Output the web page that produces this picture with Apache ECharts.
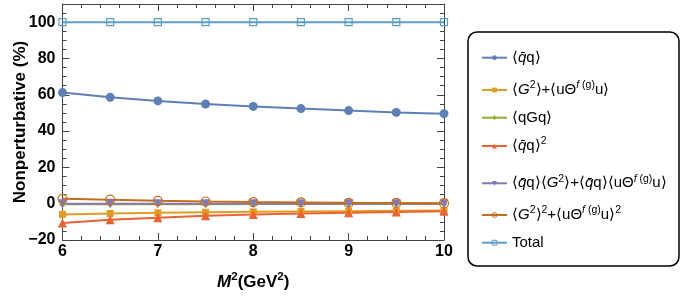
<!DOCTYPE html>
<html>
<head>
<meta charset="utf-8">
<script src="https://cdn.jsdelivr.net/npm/echarts@6/dist/echarts.min.js"></script>
<style>html,body{margin:0;padding:0;background:#fff;}#c{width:681px;height:297px;}</style>
</head>
<body>
<div id="c"></div>
<script>
const xValues = [6, 6.5, 7, 7.5, 8, 8.5, 9, 9.5, 10];
const qqCond = [61.2, 58.6, 56.6, 54.9, 53.6, 52.4, 51.3, 50.3, 49.6];
const gluonCond = [-5.9, -5.4, -5.0, -4.7, -4.5, -4.3, -4.1, -3.9, -3.8];
const mixedCond = [-0.3, -0.3, -0.3, -0.3, -0.2, -0.2, -0.2, -0.2, -0.2];
const qqSquared = [-10.6, -8.8, -7.7, -6.7, -5.9, -5.4, -5.0, -4.6, -4.2];
const qqGluon = [0, 0, 0, 0, 0, 0, 0, 0, 0];
const gluonSquared = [2.7, 2.2, 1.6, 1.2, 0.9, 0.7, 0.5, 0.4, 0.3];
const total = [100, 100, 100, 100, 100, 100, 100, 100, 100];

const xTicks = [6, 7, 8, 9, 10];
const yTicks = [-20, 0, 20, 40, 60, 80, 100];

const seriesNames = ['qq', 'G2', 'qGq', 'qq2', 'qqG2', 'G22', 'Total'];
const legendRich = {
  qq: '{n|⟨}{i|q̄}{n|q⟩}',
  G2: '{n|⟨}{i|G}{s|2}{n|⟩+⟨uΘ}{si|f}{s| (g)}{n|u⟩}',
  qGq: '{n|⟨qGq⟩}',
  qq2: '{n|⟨}{i|q̄}{n|q⟩}{s|2}',
  qqG2: '{n|⟨}{i|q̄}{n|q⟩⟨}{i|G}{s|2}{n|⟩+⟨}{i|q̄}{n|q⟩⟨uΘ}{si|f}{s| (g)}{n|u⟩}',
  G22: '{n|⟨}{i|G}{s|2}{n|⟩}{s|2}{n|+⟨uΘ}{si|f}{s| (g)}{n|u⟩}{s|2}',
  Total: '{n|Total}'
};
const colors = ['#5E81B5', '#E19C24', '#8FB032', '#EB6235', '#8778B3', '#C56E1A', '#5D9EC7'];
const dataSets = [qqCond, gluonCond, mixedCond, qqSquared, qqGluon, gluonSquared, total];
const symbols = ['circle', 'rect', 'diamond', 'triangle', 'triangle', 'circle', 'rect'];
const symbolSizes = [9, 7, 7, 9, 9, 9, 7];
const symbolRot = [0, 0, 0, 0, 180, 0, 0];
const hollow = [false, false, false, false, false, true, true];
const legendCenters = [57.7, 90, 117.7, 146, 183.3, 215, 242.7];

const FONT = '"Liberation Sans", Arial, sans-serif';
const richStyles = {
  n: {fontSize: 15, fontFamily: FONT, color: '#000', lineHeight: 20},
  i: {fontSize: 15, fontFamily: FONT, fontStyle: 'italic', color: '#000', lineHeight: 20},
  s: {fontSize: 10.5, fontFamily: FONT, color: '#000', lineHeight: 10, verticalAlign: 'top'},
  si: {fontSize: 10.5, fontFamily: FONT, fontStyle: 'italic', color: '#000', lineHeight: 10, verticalAlign: 'top'}
};

const frameColor = '#444';
function mkX(pos, labels) {
  return {
    type: 'value', position: pos, min: 6, max: 10, interval: 1,
    axisLine: {show: true, onZero: false, lineStyle: {color: frameColor, width: 1}},
    axisTick: {show: true, inside: true, length: 7, lineStyle: {color: frameColor}},
    minorTick: {show: true, splitNumber: 5, length: 4, lineStyle: {color: frameColor}},
    splitLine: {show: false}, minorSplitLine: {show: false},
    axisLabel: labels ? {show: true, margin: 4, fontSize: 16, fontWeight: 'bold', fontFamily: FONT, color: '#000',
      formatter: v => xTicks.includes(v) ? String(v) : ''} : {show: false}
  };
}
function mkY(pos, interval, tickLen, labels, line) {
  return {
    type: 'value', position: pos, min: -20, max: 110, interval: interval,
    axisLine: {show: line, onZero: false, lineStyle: {color: frameColor, width: 1}},
    axisTick: {show: true, inside: true, length: tickLen, lineStyle: {color: frameColor}},
    splitLine: {show: false},
    axisLabel: labels ? {show: true, margin: 7, fontSize: 16, fontWeight: 'bold', fontFamily: FONT, color: '#000',
      showMaxLabel: false,
      formatter: v => yTicks.includes(v) ? String(v).replace('-', '\u2212') : ''} : {show: false}
  };
}

const xAxes = [mkX('bottom', true), mkX('top', false)];
xAxes[0].name = '{bi|M}{bs|2}{b|(GeV}{bs|2}{b|)}';
xAxes[0].nameLocation = 'middle';
xAxes[0].nameGap = 31;
xAxes[0].nameMoveOverlap = false;
xAxes[0].nameTextStyle = {
  rich: {
    b: {fontSize: 17, fontWeight: 'bold', fontFamily: FONT, color: '#000', lineHeight: 22},
    bi: {fontSize: 17, fontWeight: 'bold', fontStyle: 'italic', fontFamily: FONT, color: '#000', lineHeight: 22},
    bs: {fontSize: 11.5, fontWeight: 'bold', fontFamily: FONT, color: '#000', lineHeight: 11, verticalAlign: 'top'}
  }
};
const yAxes = [mkY('left', 20, 7, true, true), mkY('left', 5, 4, false, false), mkY('right', 20, 7, false, true), mkY('right', 5, 4, false, false)];
yAxes[0].name = 'Nonperturbative (%)';
yAxes[0].nameLocation = 'middle';
yAxes[0].nameGap = 34;
yAxes[0].nameMoveOverlap = false;
yAxes[0].nameTextStyle = {fontSize: 17, fontWeight: 'bold', fontFamily: FONT, color: '#000'};

const series = seriesNames.map((name, k) => ({
  name: name, type: 'line', xAxisIndex: 0, yAxisIndex: 0,
  data: xValues.map((x, j) => [x, dataSets[k][j]]),
  symbol: symbols[k], symbolSize: symbolSizes[k], symbolRotate: symbolRot[k],
  showAllSymbol: true, animation: false,
  lineStyle: {color: colors[k], width: 2},
  itemStyle: hollow[k] ? {color: 'rgba(255,255,255,0)', borderColor: colors[k], borderWidth: 1.2} : {color: colors[k]},
  emphasis: {disabled: true}
}));

const legends = seriesNames.map((name, k) => ({
  data: [hollow[k]
    ? {name: name, itemStyle: {color: 'rgba(255,255,255,0)', borderColor: colors[k], borderWidth: 1}}
    : {name: name}],
  left: 481, top: legendCenters[k] - 10, padding: 0,
  orient: 'vertical', itemWidth: 25, itemHeight: 6, itemGap: 0,
  selectedMode: false,
  formatter: n => legendRich[n],
  textStyle: {rich: richStyles, fontSize: 15, fontFamily: FONT, lineHeight: 20, padding: [0, 0, 0, 0]}
}));

const chart = echarts.init(document.getElementById('c'), null, {renderer: 'canvas'});
chart.setOption({
  animation: false,
  backgroundColor: '#fff',
  grid: {left: 62.5, right: 237, top: 4, bottom: 57, containLabel: false, outerBoundsMode: 'none'},
  xAxis: xAxes,
  yAxis: yAxes,
  legend: legends,
  graphic: [{
    type: 'rect', z: -10, silent: true,
    shape: {x: 468, y: 32, width: 211, height: 234, r: 9},
    style: {fill: '#fff', stroke: '#000', lineWidth: 1.5}
  }],
  series: series
});
</script>
</body>
</html>
